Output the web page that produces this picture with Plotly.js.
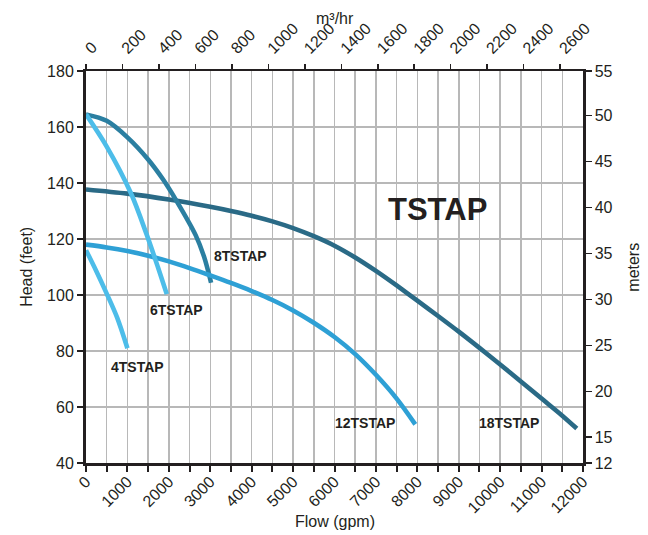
<!DOCTYPE html>
<html><head><meta charset="utf-8">
<script src="https://cdn.plot.ly/plotly-3.0.1.min.js"></script>
<style>html,body{margin:0;padding:0;background:#fff}#chart{width:648px;height:535px}</style>
</head><body><div id="chart"></div>
<script>
// Flow (gpm) and head (feet) per pump model
const flow4 = [0, 250, 500, 750, 1000];
const head4 = [116, 108.5, 100.5, 92, 81];
const flow6 = [0, 500, 1080, 1455, 1735, 1950];
const head6 = [164.5, 153, 136.5, 122, 110, 100.3];
const flow8 = [0, 500, 1000, 1500, 1850, 2170, 2650, 2850, 3020];
const head8 = [164.5, 162.2, 156.3, 148.4, 141.5, 134, 121.3, 113.7, 104.4];
const flow12 = [0, 500, 1000, 1500, 2000, 2500, 3000, 3500, 4000, 4500, 5000, 5500, 6000, 6500, 7000, 7500, 7950];
const head12 = [118, 117, 115.7, 114, 112, 109.6, 107, 104.3, 101.4, 98.2, 94.5, 90.1, 85, 78.9, 71.5, 63, 53.8];
const flow18 = [0, 1000, 2000, 3000, 3500, 4000, 4500, 5000, 5500, 6000, 6500, 7000, 7500, 8000, 8500, 9000, 9500, 10000, 10500, 11000, 11500, 11850];
const head18 = [137.7, 136.2, 134.1, 131.5, 130, 128.3, 126.3, 123.9, 121, 117.6, 113.4, 108.6, 103.4, 98, 92.5, 86.9, 81.1, 75.2, 69.1, 63, 56.9, 52.3];

const modelNames = ['4TSTAP', '6TSTAP', '8TSTAP', '12TSTAP', '18TSTAP'];
const labelFlow = [1232, 2186, 3732, 6727, 10205];
const labelHead = [74.4, 94.6, 113.8, 54.4, 54.4];
const seriesTitle = 'TSTAP';
const titleFlow = 8480;
const titleHead = 130.4;

const gpmTicks = [0,500,1000,1500,2000,2500,3000,3500,4000,4500,5000,5500,6000,6500,7000,7500,8000,8500,9000,9500,10000,10500,11000,11500,12000];
const gpmLabels = ['0','','1000','','2000','','3000','','4000','','5000','','6000','','7000','','8000','','9000','','10000','','11000','','12000'];
const m3hTicks = [0,200,400,600,800,1000,1200,1400,1600,1800,2000,2200,2400,2600];
const feetTicks = [40,60,80,100,120,140,160,180];
const meterTicks = [12,15,20,25,30,35,40,45,50,55];

const GPM_PER_M3H = 4.402868;
const FT_PER_M = 3.28084;
const xMax = 12000, yMin = 40, yMax = 180;

const font = 'Liberation Sans, Arial, sans-serif';
const ink = '#231f20';
const colors = ['#4dbde9', '#4dbde9', '#2b7fa1', '#2ea0d5', '#2a6a86'];
const flows = [flow4, flow6, flow8, flow12, flow18];
const heads = [head4, head6, head8, head12, head18];

const traces = [];
[4, 2, 3, 1, 0].forEach(i => {
  traces.push({x: flows[i], y: heads[i], type: 'scatter', mode: 'lines',
    line: {color: colors[i], width: 4.6, shape: 'spline', smoothing: 0.9},
    hoverinfo: 'skip', showlegend: false, cliponaxis: false});
});
// invisible helper trace so the secondary axes are drawn
traces.push({x: [0], y: [yMin], xaxis: 'x2', yaxis: 'y2', mode: 'markers',
  marker: {opacity: 0}, showlegend: false, hoverinfo: 'skip'});

const annotations = modelNames.map((n, i) => ({
  x: labelFlow[i], y: labelHead[i], xref: 'x', yref: 'y', text: '<b>' + n + '</b>',
  xanchor: 'center', yanchor: 'middle',
  showarrow: false, font: {family: font, size: 14, color: ink}
}));
annotations.push({x: titleFlow, y: titleHead, xref: 'x', yref: 'y', text: '<b>' + seriesTitle + '</b>',
  xanchor: 'center', yanchor: 'middle',
  showarrow: false, font: {family: font, size: 31, color: ink}});
// axis titles
const axisTitleFont = {family: font, size: 16, color: ink};
function paperTitle(x, y, text, angle) {
  return {x: x, y: y, xref: 'paper', yref: 'paper', text: text, textangle: angle || 0,
    xanchor: 'center', yanchor: 'middle', showarrow: false, font: axisTitleFont};
}
annotations.push(paperTitle(0.5, 1.135, 'm³/hr'));
annotations.push(paperTitle(0.5, -0.148, 'Flow (gpm)'));
annotations.push(paperTitle(-0.121, 0.5, 'Head (feet)', -90));
annotations.push(paperTitle(1.1, 0.5, 'meters', -90));

const meterPos = meterTicks.map(m => Math.min(yMax, Math.max(yMin, m * FT_PER_M)));
const tickFont = {family: font, size: 16, color: ink};

const layout = {
  width: 648, height: 535,
  margin: {l: 86, r: 65, t: 71, b: 72, pad: 0},
  paper_bgcolor: '#fff', plot_bgcolor: '#fff',
  font: {family: font, size: 16, color: ink},
  showlegend: false,
  xaxis: {range: [0, xMax], tickmode: 'array', tickvals: gpmTicks, ticktext: gpmLabels,
    tickangle: -45, ticks: 'outside', ticklen: 6, tickwidth: 2, tickcolor: ink,
    ticklabelstandoff: -6,
    showgrid: true, gridcolor: '#b8b8b8', gridwidth: 1.5, zeroline: false,
    showline: true, linecolor: ink, linewidth: 3, tickfont: tickFont},
  xaxis2: {overlaying: 'x', side: 'top', range: [0, xMax / GPM_PER_M3H], tickmode: 'array',
    tickvals: m3hTicks, tickangle: -45, ticks: 'outside', ticklen: 5, tickwidth: 1.5, tickcolor: ink,
    showgrid: false, zeroline: false, showline: true, linecolor: ink, linewidth: 2.5, tickfont: tickFont},
  yaxis: {range: [yMin, yMax], tickmode: 'array', tickvals: feetTicks,
    ticks: 'outside', ticklen: 6, tickwidth: 2, tickcolor: ink,
    showgrid: true, gridcolor: '#b8b8b8', gridwidth: 1.5, zeroline: false,
    showline: true, linecolor: ink, linewidth: 3, tickfont: tickFont},
  yaxis2: {overlaying: 'y', side: 'right', range: [yMin, yMax], tickmode: 'array',
    tickvals: meterPos, ticktext: meterTicks.map(String),
    ticks: 'outside', ticklen: 6, tickwidth: 1.5, tickcolor: ink,
    showgrid: false, zeroline: false, showline: true, linecolor: ink, linewidth: 2.5, tickfont: tickFont},
  annotations: annotations
};

Plotly.newPlot('chart', traces, layout, {staticPlot: true, displayModeBar: false});
</script>
</body></html>
